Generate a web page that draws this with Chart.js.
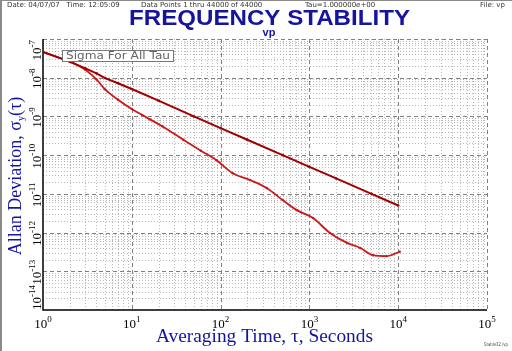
<!DOCTYPE html>
<html>
<head>
<meta charset="utf-8">
<script src="https://cdn.jsdelivr.net/npm/chart.js@4/dist/chart.umd.min.js"></script>
<style>
  body { margin: 0; background: #fff; }
  canvas { display: block; }
</style>
</head>
<body>
<canvas id="chart" width="512" height="351"></canvas>
<script>
// Sigma for all tau - upper (dark red) and lower (red) curves
const tauUpper = [1, 2, 3, 4, 5, 7, 10, 20, 50, 100, 200, 500, 1000, 2000, 5000, 10000];
const sigmaUpper = [4.6e-8, 2.6e-8, 1.75e-8, 1.3e-8, 9.8e-9, 7.2e-9, 5.1e-9, 2.55e-9, 1.0e-9, 5.0e-10,
    2.5e-10, 1.0e-10, 5.0e-11, 2.5e-11, 1.0e-11, 5.0e-12];

const tauLower = [1, 2, 3, 4, 5, 7, 10, 13, 16, 22, 38, 60, 90, 137, 214, 330, 500, 720,
    1100, 1700, 2660, 3750, 5200, 7400, 10400];
const sigmaLower = [4.6e-8, 2.6e-8, 1.6e-8, 9.0e-9, 5.0e-9, 2.7e-9, 1.55e-9, 1.1e-9, 8.4e-10, 5.6e-10,
    2.5e-10, 1.3e-10, 7.4e-11, 3.4e-11, 2.28e-11, 1.42e-11, 6.9e-12, 3.8e-12,
    2.37e-12, 9.8e-13, 5.4e-13, 4.0e-13, 2.6e-13, 2.46e-13, 3.2e-13];

// Tick labels (exponents of 10)
const xTickExps = [0, 1, 2, 3, 4, 5];
const yTickExps = [-7, -8, -9, -10, -11, -12, -13, -14];

const toPoints = (xs, ys) => xs.map((x, i) => ({ x: x, y: ys[i] }));

// draw text squeezed/stretched to a given width
function fitText(c, text, x, y, width) {
    const w = c.measureText(text).width;
    c.save();
    c.translate(x, y);
    c.scale(width / w, 1);
    c.textAlign = 'center';
    c.fillText(text, 0, 0);
    c.restore();
}

// Grid, axes and labels drawn from the chart's own scales
const decor = {
    id: 'decor',
    beforeDatasetsDraw(chart) {
        const c = chart.ctx, xs = chart.scales.x, ys = chart.scales.y, a = chart.chartArea;
        c.save();
        c.lineWidth = 1;
        // x grid
        for (let e = xTickExps[0]; e <= xTickExps[xTickExps.length - 1]; e++) {
            for (let m = 1; m <= 9; m++) {
                const v = m * Math.pow(10, e);
                if (v > xs.max || (e === 0 && m === 1)) continue;
                const px = Math.round(xs.getPixelForValue(v)) + 0.5;
                c.setLineDash(m === 1 ? [4, 3] : [1, 2]);
                c.strokeStyle = m === 1 ? '#808080' : '#b8b8b8';
                c.beginPath(); c.moveTo(px, a.top); c.lineTo(px, a.bottom); c.stroke();
            }
        }
        // y grid
        for (let e = -14; e <= -7; e++) {
            for (let m = 1; m <= 9; m++) {
                const v = m * Math.pow(10, e);
                if (v > ys.max * 1.0001 || (e === -14 && m === 1)) continue;
                const py = Math.round(ys.getPixelForValue(v)) + 0.5;
                c.setLineDash(m === 1 ? [4, 3] : [1, 2]);
                c.strokeStyle = m === 1 ? '#808080' : '#b8b8b8';
                c.beginPath(); c.moveTo(a.left, py); c.lineTo(a.right, py); c.stroke();
            }
        }
        // axes
        c.setLineDash([]);
        c.strokeStyle = '#000';
        c.lineWidth = 1.5;
        c.beginPath();
        c.moveTo(a.left, a.top); c.lineTo(a.left, a.bottom); c.lineTo(a.right, a.bottom);
        c.stroke();
        c.restore();
    },
    afterDraw(chart) {
        const c = chart.ctx, xs = chart.scales.x, ys = chart.scales.y, a = chart.chartArea;
        c.save();
        // frame
        c.fillStyle = '#8a8a8a';
        c.fillRect(0, 0, 2, 351);
        c.fillRect(0, 0, 512, 1);

        // header line
        c.fillStyle = '#333';
        c.font = '7px "DejaVu Sans"';
        c.textBaseline = 'middle';
        c.textAlign = 'left';
        c.fillText('Date: 04/07/07   Time: 12:05:09', 7, 5);
        c.fillText('Data Points 1 thru 44000 of 44000', 141, 5);
        c.fillText('Tau=1.000000e+00', 305, 5);
        c.fillText('File: vp', 480, 5);

        // title
        c.fillStyle = '#1414a0';
        c.textBaseline = 'alphabetic';
        c.font = 'bold 22px "Liberation Sans"';
        fitText(c, 'FREQUENCY STABILITY', 269.5, 25, 281);
        c.font = 'bold 11px "Liberation Sans"';
        c.textAlign = 'center';
        c.fillText('vp', 269, 36);

        // x tick labels
        c.fillStyle = '#000';
        xTickExps.forEach(e => {
            const px = xs.getPixelForValue(Math.pow(10, e));
            c.font = '13px "Liberation Serif"';
            const w1 = c.measureText('10').width;
            c.font = '9px "Liberation Serif"';
            const w2 = c.measureText(String(e)).width;
            const x0 = px - (w1 + w2) / 2;
            c.textAlign = 'left';
            c.font = '13px "Liberation Serif"';
            c.fillText('10', x0, 328);
            c.font = '9px "Liberation Serif"';
            c.fillText(String(e), x0 + w1, 322);
        });

        // y tick labels (rotated)
        yTickExps.forEach(e => {
            const py = ys.getPixelForValue(Math.pow(10, e));
            c.font = '13px "Liberation Serif"';
            const w1 = c.measureText('10').width;
            c.font = '9px "Liberation Serif"';
            const sup = '-' + String(-e);
            const w2 = c.measureText(sup).width;
            const total = w1 + w2;
            let start = py + total / 2 + 1;
            if (start > a.bottom) start = a.bottom;
            if (start - total < a.top) start = a.top + total + 1;
            c.save();
            c.translate(41, start);
            c.rotate(-Math.PI / 2);
            c.textAlign = 'left';
            c.font = '13px "Liberation Serif"';
            c.fillText('10', 0, 0);
            c.font = '9px "Liberation Serif"';
            c.fillText(sup, w1, -6);
            c.restore();
        });

        // axis titles
        c.fillStyle = '#1414a0';
        c.font = '18px "Liberation Serif"';
        fitText(c, 'Averaging Time, τ, Seconds', 264.5, 342, 217);
        c.save();
        c.translate(21, 176);
        c.rotate(-Math.PI / 2);
        const t1 = 'Allan Deviation, σ', t2 = 'y', t3 = '(τ)';
        c.font = '18px "Liberation Serif"';
        const wa = c.measureText(t1).width, wc = c.measureText(t3).width;
        c.font = '10px "Liberation Serif"';
        const wb = c.measureText(t2).width;
        const sx = -(wa + wb + wc) / 2;
        c.textAlign = 'left';
        c.font = '18px "Liberation Serif"';
        c.fillText(t1, sx, 0);
        c.font = '10px "Liberation Serif"';
        c.fillText(t2, sx + wa, 3);
        c.font = '18px "Liberation Serif"';
        c.fillText(t3, sx + wa + wb, 0);
        c.restore();

        // legend box
        c.fillStyle = '#fff';
        c.fillRect(62, 50, 111, 11);
        c.strokeStyle = '#777';
        c.lineWidth = 1;
        c.strokeRect(62.5, 50.5, 111, 11);
        c.fillStyle = '#666';
        c.font = '10px "DejaVu Sans"';
        c.textBaseline = 'middle';
        fitText(c, 'Sigma For All Tau', 118, 56.5, 104);

        // footer
        c.fillStyle = '#444';
        c.font = '5px "DejaVu Sans"';
        fitText(c, 'Stable32 /vp', 496, 345, 24);
        c.restore();
    }
};

const ctx = document.getElementById('chart').getContext('2d');
let chart = new Chart(ctx, {
    type: 'scatter',
    data: {
        datasets: [{
            label: 'Upper',
            data: toPoints(tauUpper, sigmaUpper),
            showLine: true,
            borderColor: '#a00000',
            backgroundColor: '#a00000',
            borderWidth: 2,
            pointRadius: 1.3,
            pointBorderWidth: 0
        }, {
            label: 'Lower',
            data: toPoints(tauLower, sigmaLower),
            showLine: true,
            cubicInterpolationMode: 'monotone',
            borderColor: '#cc1818',
            backgroundColor: '#cc1818',
            borderWidth: 1.8,
            pointRadius: 1.2,
            pointBorderWidth: 0
        }]
    },
    options: {
        responsive: false,
        animation: false,
        layout: { padding: { left: 43, right: 25, top: 39, bottom: 41 } },
        plugins: { legend: { display: false }, tooltip: { enabled: false } },
        scales: {
            x: { type: 'logarithmic', min: 1, max: 1e5, display: false },
            y: { type: 'logarithmic', min: 1e-14, max: 1e-7, display: false }
        }
    },
    plugins: [decor]
});
</script>
</body>
</html>
